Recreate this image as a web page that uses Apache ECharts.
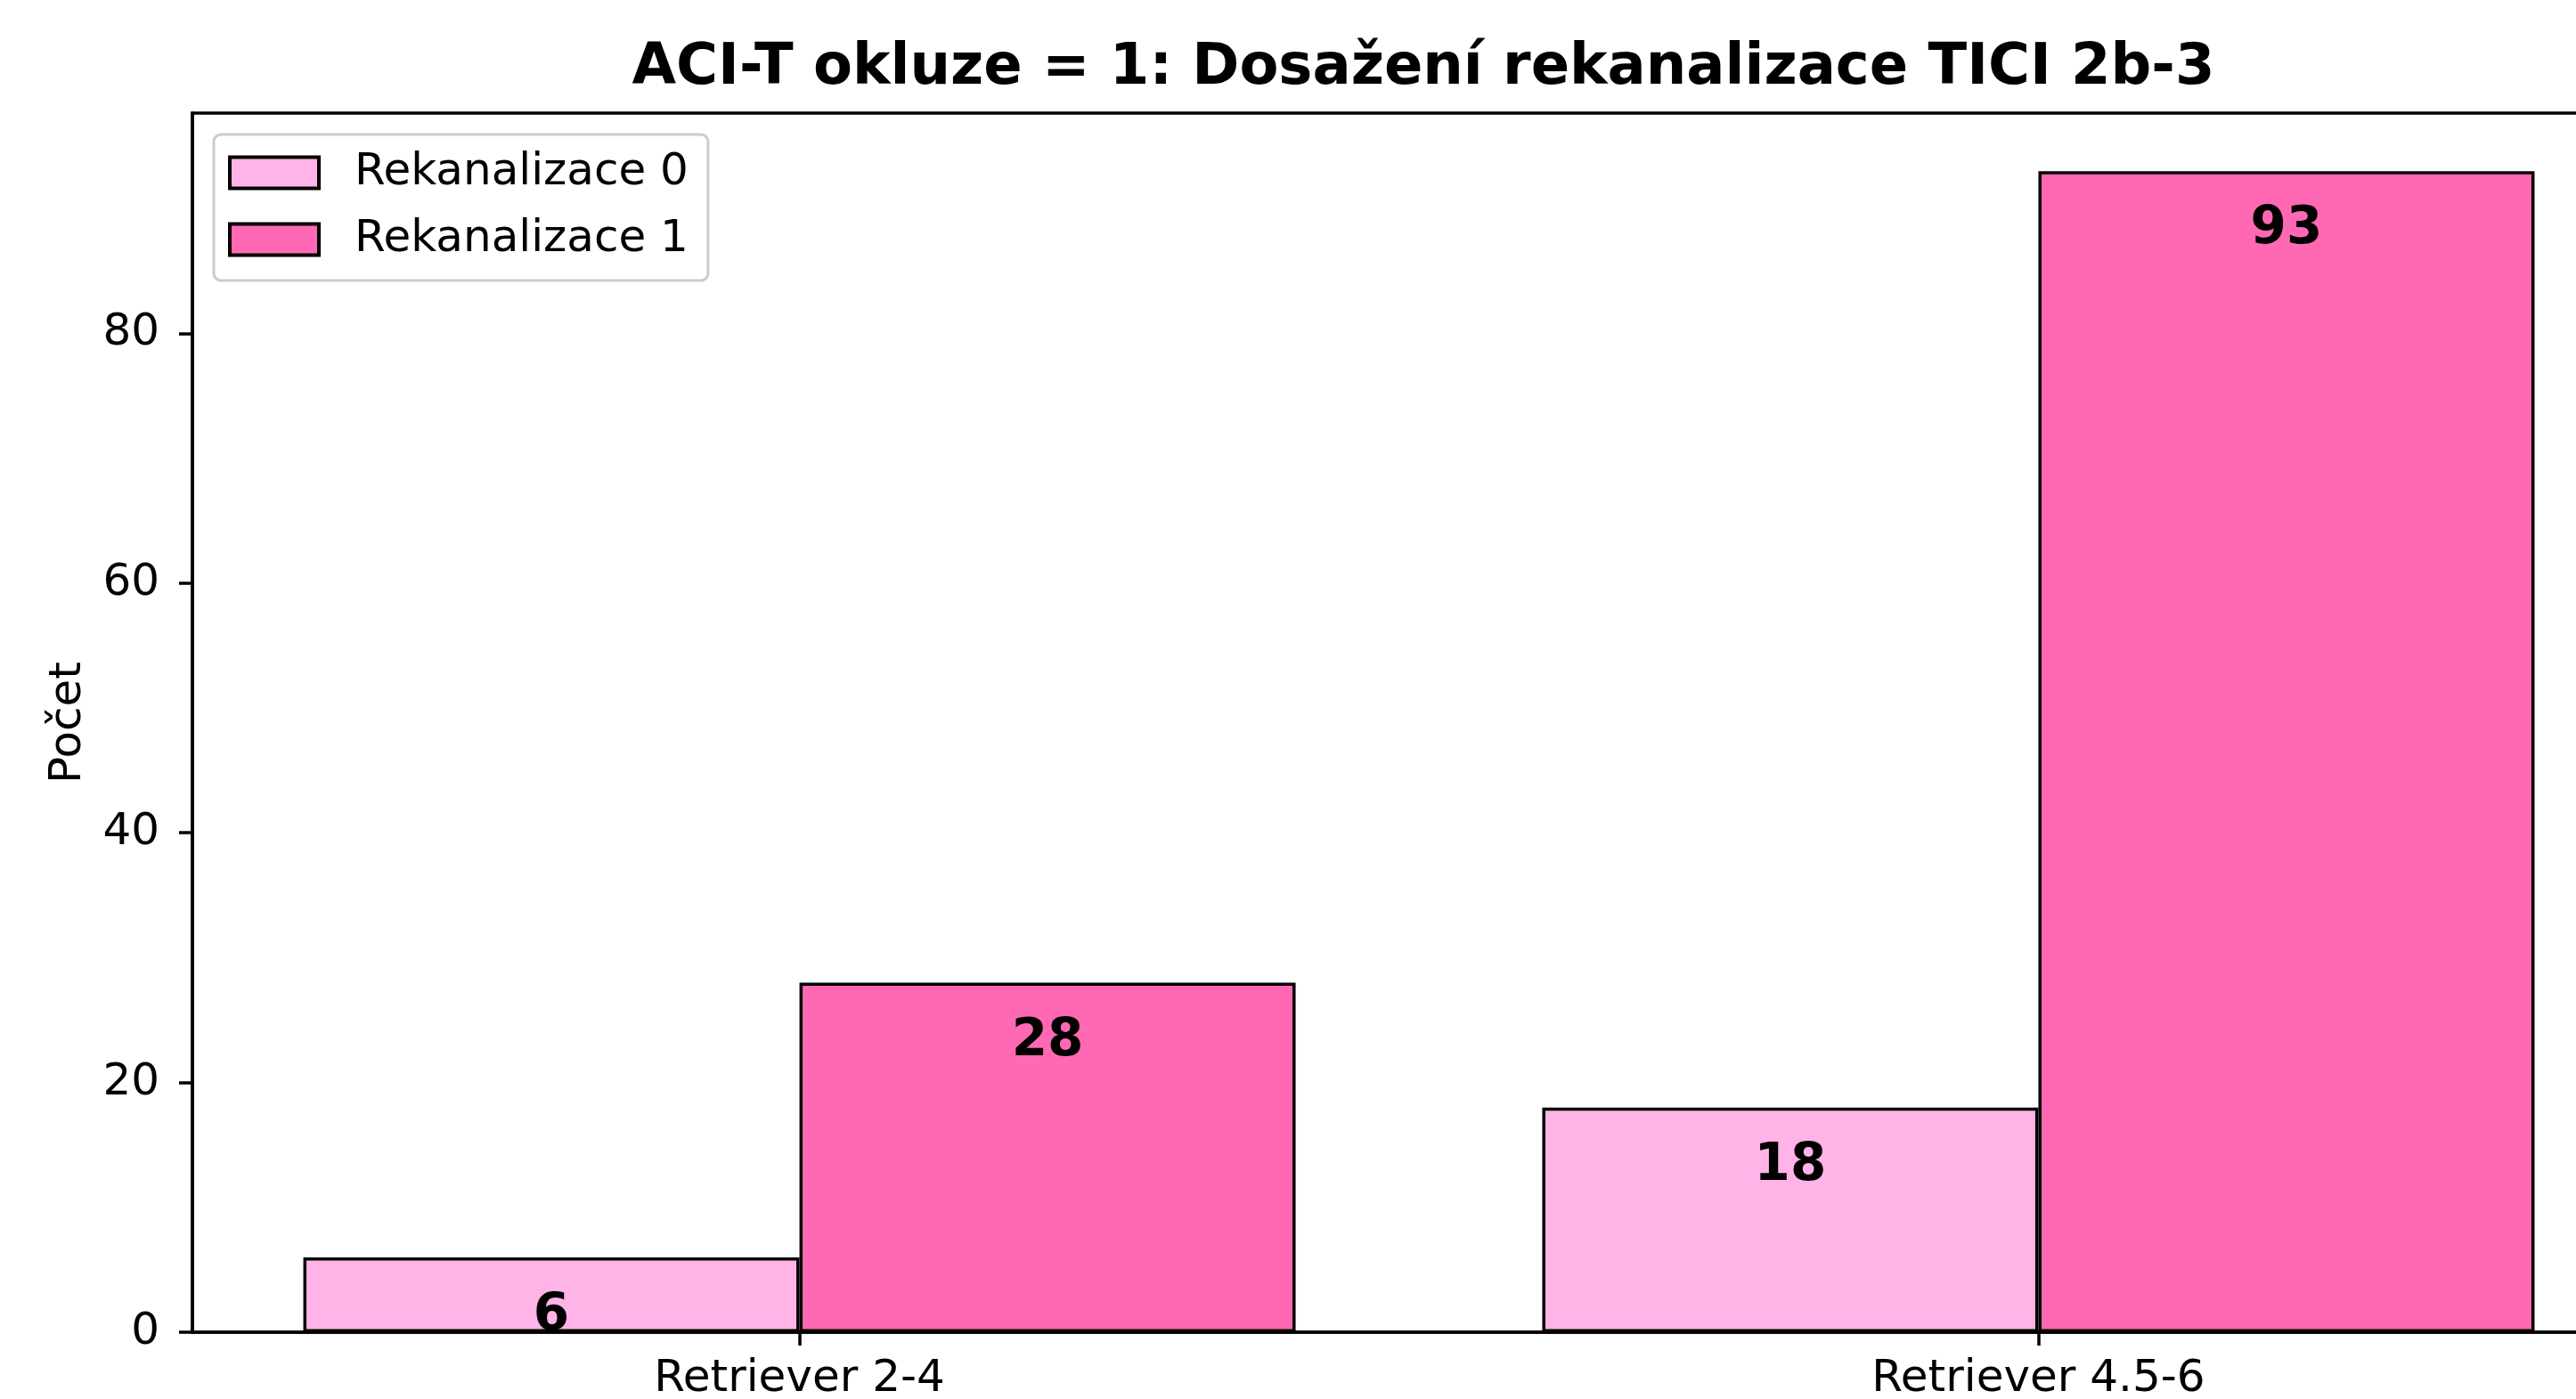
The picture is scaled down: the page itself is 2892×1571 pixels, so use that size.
<!DOCTYPE html>
<html>
<head>
    <meta charset="UTF-8">
    <title>ACI-T okluze = 1</title>
    <style>
        html, body { margin: 0; padding: 0; background: #fff; }
        #main { width: 2892px; height: 1571px; }
    </style>
</head>
<body>
<div id="main"></div>
<script src="https://cdn.jsdelivr.net/npm/echarts@6/dist/echarts.min.js"></script>
<script type="text/javascript">
    // data
    var categories = ['Retriever 2-4', 'Retriever 4.5-6'];
    var seriesNames = ['Rekanalizace 0', 'Rekanalizace 1'];
    var rekan0 = [6, 18];
    var rekan1 = [28, 93];
    var yTicks = [0, 20, 40, 60, 80];

    var FONT = 'DejaVu Sans';
    var LINE_W = 3.5;

    // bars sit on a value axis at the category index, so the axis range can match the picture
    function toPoints(vals) {
        return vals.map(function (v, i) { return [i, v]; });
    }

    function barSeries(name, vals, color) {
        return {
            name: name,
            type: 'bar',
            data: toPoints(vals),
            barWidth: 557,
            barGap: '0%',
            itemStyle: {color: color, borderColor: '#000', borderWidth: LINE_W},
            label: {
                show: true,
                position: 'insideTop',
                distance: 37,
                color: '#000',
                fontFamily: FONT,
                fontWeight: 'bold',
                fontSize: 58
            }
        };
    }

    var myChart = echarts.init(document.getElementById('main'));
    myChart.setOption({
        animation: false,
        backgroundColor: '#fff',
        title: {
            text: 'ACI-T okluze = 1: Dosažení rekanalizace TICI 2b-3',
            left: 1593,
            top: 40,
            textAlign: 'center',
            textStyle: {fontFamily: FONT, fontWeight: 'bold', fontSize: 64, color: '#000'}
        },
        legend: {
            orient: 'vertical',
            left: 240,
            top: 151,
            data: seriesNames,
            icon: 'rect',
            itemWidth: 100,
            itemHeight: 35,
            itemGap: 25,
            padding: [18, 22, 21, 16],
            backgroundColor: '#fff',
            borderColor: '#cccccc',
            borderWidth: 3,
            borderRadius: 8,
            itemStyle: {borderColor: '#000', borderWidth: 4},
            textStyle: {fontFamily: FONT, fontSize: 50, color: '#000', lineHeight: 50, padding: [0, 0, 0, 35]}
        },
        grid: {
            left: 216,
            top: 127,
            width: 2754,
            bottom: 75,
            show: true,
            borderColor: '#000',
            borderWidth: LINE_W,
            containLabel: false,
            outerBoundsMode: 'none'
        },
        xAxis: {
            type: 'value',
            min: -0.49,
            max: 1.49,
            splitLine: {show: false},
            axisLine: {show: true, onZero: false, lineStyle: {color: '#000', width: LINE_W}},
            axisTick: {
                show: true,
                customValues: [0, 1],
                length: 15,
                lineStyle: {color: '#000', width: LINE_W}
            },
            axisLabel: {
                customValues: [0, 1],
                margin: 28,
                fontFamily: FONT,
                fontSize: 50,
                color: '#000',
                formatter: function (v) { return categories[Math.round(v)]; }
            }
        },
        yAxis: {
            type: 'value',
            min: 0,
            max: 97.65,
            interval: 20,
            name: 'Počet',
            nameLocation: 'middle',
            nameGap: 114,
            nameTextStyle: {fontFamily: FONT, fontSize: 50, color: '#000'},
            splitLine: {show: false},
            axisLine: {show: true, onZero: false, lineStyle: {color: '#000', width: LINE_W}},
            axisTick: {show: true, length: 15, lineStyle: {color: '#000', width: LINE_W}},
            axisLabel: {
                margin: 37,
                fontFamily: FONT,
                fontSize: 50,
                color: '#000',
                showMaxLabel: false,
                formatter: function (v) { return yTicks.indexOf(v) >= 0 ? String(v) : ''; }
            }
        },
        series: [
            barSeries(seriesNames[0], rekan0, '#ffb3e6'),
            barSeries(seriesNames[1], rekan1, '#ff69b4')
        ]
    });
</script>
</body>
</html>
